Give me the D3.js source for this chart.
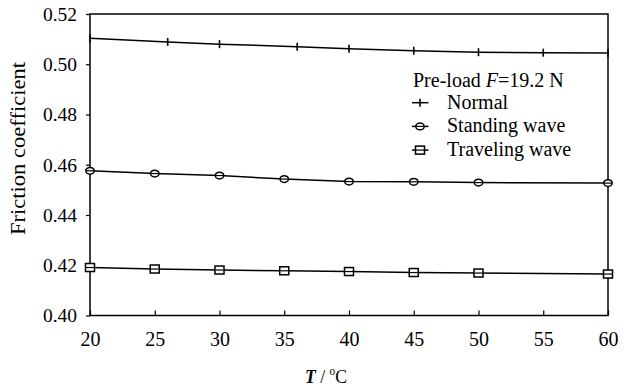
<!DOCTYPE html>
<html>
<head>
<meta charset="utf-8">
<script src="https://cdn.jsdelivr.net/npm/d3@7"></script>
<style>
  body { margin: 0; background: #fff; }
</style>
</head>
<body>
<div id="container"></div>
<script>
// data
const normalT = [20, 26, 30, 36, 40, 45, 50, 55, 60];
const normalMu = [0.5103, 0.5089, 0.5080, 0.5070, 0.5062, 0.5054, 0.5048, 0.5046, 0.5045];

const standingT = [20, 25, 30, 35, 40, 45, 50, 60];
const standingMu = [0.4576, 0.4565, 0.4557, 0.4543, 0.4533, 0.4532, 0.4529, 0.4527];

const travelingT = [20, 25, 30, 35, 40, 45, 50, 60];
const travelingMu = [0.4191, 0.4185, 0.4181, 0.4178, 0.4175, 0.4171, 0.4169, 0.4165];

const xTicks = [20, 25, 30, 35, 40, 45, 50, 55, 60];
const yTicks = [0.40, 0.42, 0.44, 0.46, 0.48, 0.50, 0.52];

const legendTitle = 'Pre-load ';
const legendNames = ['Normal', 'Standing wave', 'Traveling wave'];

const width = 626, height = 388;
const plotLeft = 90, plotRight = 608, plotTop = 14, plotBottom = 315.5;
const serif = '"Liberation Serif", "Times New Roman", serif';

const svg = d3.select('#container').append('svg')
  .attr('width', width)
  .attr('height', height);

const x = d3.scaleLinear().domain([20, 60]).range([plotLeft, plotRight]);
const y = d3.scaleLinear().domain([0.40, 0.52]).range([plotBottom, plotTop]);

// frame
svg.append('rect')
  .attr('x', plotLeft).attr('y', plotTop)
  .attr('width', plotRight - plotLeft).attr('height', plotBottom - plotTop)
  .attr('fill', 'none').attr('stroke', '#000').attr('stroke-width', 1.5);

// x axis, ticks pointing in
const xAxis = svg.append('g')
  .attr('transform', `translate(0,${plotBottom})`)
  .call(d3.axisBottom(x).tickValues(xTicks).tickSizeInner(-5).tickSizeOuter(0));
xAxis.select('.domain').remove();
xAxis.selectAll('line').attr('stroke-width', 1.2);
xAxis.selectAll('text').style('font-size', '20px').attr('y', 30).attr('dy', 0);

// y axis, ticks pointing out
const yAxis = svg.append('g')
  .attr('transform', `translate(${plotLeft},0)`)
  .call(d3.axisLeft(y).tickValues(yTicks).tickFormat(d3.format('.2f')).tickSizeInner(4).tickSizeOuter(0).tickPadding(9));
yAxis.select('.domain').remove();
yAxis.selectAll('line').attr('stroke-width', 1.2);
yAxis.selectAll('text').style('font-size', '19.5px');

// axis titles
svg.append('text')
  .attr('transform', 'translate(25,235) rotate(-90)')
  .style('font-size', '20px')
  .attr('textLength', 173)
  .attr('lengthAdjust', 'spacingAndGlyphs')
  .text('Friction coefficient');

const xt = svg.append('text')
  .attr('x', 305).attr('y', 383)
  .style('font-size', '19px')
  .attr('textLength', 42)
  .attr('lengthAdjust', 'spacingAndGlyphs');
xt.append('tspan').style('font-style', 'italic').style('font-weight', 'bold').text('T');
xt.append('tspan').text(' / ');
xt.append('tspan').attr('dy', -8).style('font-size', '12px').text('o');
xt.append('tspan').attr('dy', 8).text('C');

const line = d3.line().x(d => x(d[0])).y(d => y(d[1]));

const series = [
  { t: normalT, mu: normalMu, mark: 'plus' },
  { t: standingT, mu: standingMu, mark: 'circle' },
  { t: travelingT, mu: travelingMu, mark: 'square' }
];

function drawMark(g, kind, cx, cy) {
  if (kind === 'plus') {
    g.append('line')
      .attr('x1', cx).attr('x2', cx).attr('y1', cy - 4).attr('y2', cy + 4)
      .attr('stroke', '#000').attr('stroke-width', 1.6);
  } else if (kind === 'circle') {
    g.append('ellipse')
      .attr('cx', cx).attr('cy', cy).attr('rx', 4.2).attr('ry', 3.4)
      .attr('fill', '#fff').attr('stroke', '#000').attr('stroke-width', 1.5);
  } else {
    g.append('rect')
      .attr('x', cx - 4.5).attr('y', cy - 4).attr('width', 9).attr('height', 8)
      .attr('fill', '#fff').attr('stroke', '#000').attr('stroke-width', 1.5);
  }
  if (kind !== 'plus') {
    // line shows through the hollow mark
    g.append('line')
      .attr('x1', cx - 4).attr('x2', cx + 4).attr('y1', cy).attr('y2', cy)
      .attr('stroke', '#000').attr('stroke-width', 1.2);
  }
}

series.forEach(s => {
  const pts = s.t.map((t, i) => [t, s.mu[i]]);
  svg.append('path')
    .datum(pts)
    .attr('d', line)
    .attr('fill', 'none')
    .attr('stroke', '#000')
    .attr('stroke-width', 1.5);
  const g = svg.append('g');
  pts.forEach(p => drawMark(g, s.mark, x(p[0]), y(p[1])));
});

// legend
const lg = svg.append('g');
const title = lg.append('text').attr('x', 413).attr('y', 87).style('font-size', '20px');
title.append('tspan').text(legendTitle);
title.append('tspan').style('font-style', 'italic').text('F');
title.append('tspan').text('=19.2 N');

legendNames.forEach((name, i) => {
  const ly = 102.7 + i * 23.7;
  lg.append('line')
    .attr('x1', 412).attr('x2', 428.5).attr('y1', ly).attr('y2', ly)
    .attr('stroke', '#000').attr('stroke-width', 1.5);
  drawMark(lg, series[i].mark, 420, ly);
  lg.append('text')
    .attr('x', 447).attr('y', ly + 6)
    .style('font-size', '20px')
    .text(name);
});

// serif everywhere, inline so the axis defaults cannot win
svg.selectAll('text').style('font-family', serif).attr('fill', '#000');
</script>
</body>
</html>
